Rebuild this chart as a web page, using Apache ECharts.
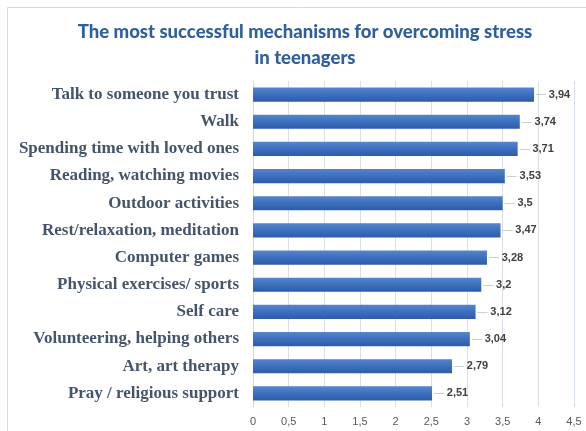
<!DOCTYPE html>
<html><head><meta charset="utf-8">
<script src="https://cdn.jsdelivr.net/npm/echarts@6/dist/echarts.min.js"></script>
<style>html,body{margin:0;padding:0;background:#fff}#c{width:586px;height:431px}</style>
</head><body><div id="c"></div>
<script>
const categories = ["Talk to someone you trust","Walk","Spending time with loved ones","Reading, watching movies","Outdoor activities","Rest/relaxation, meditation","Computer games","Physical exercises/ sports","Self care","Volunteering, helping others","Art, art therapy","Pray / religious support"];
const values = [3.94,3.74,3.71,3.53,3.5,3.47,3.28,3.2,3.12,3.04,2.79,2.51];
const titleText = "The most successful mechanisms for overcoming stress\nin teenagers";

const chart = echarts.init(document.getElementById('c'));
chart.setOption({
  animation:false,
  graphic:[{type:'rect',shape:{x:7.5,y:7.5,width:600,height:440},style:{fill:'none',stroke:'#d9d9d9',lineWidth:1}}],
  title:{text:titleText,left:300,textAlign:'center',top:14,textStyle:{fontFamily:'Lato',fontWeight:900,fontSize:18.5,color:'#2f5f9e',lineHeight:26}},
  grid:{left:253,right:12,top:81,bottom:24,containLabel:false},
  xAxis:{type:'value',min:0,max:4.5,interval:0.5,
    axisLabel:{color:'#595959',fontSize:11,fontFamily:'Liberation Sans',margin:9,formatter:v=>String(v).replace('.',',')},
    splitLine:{lineStyle:{color:'#d9dfe8'}},axisLine:{show:false},axisTick:{show:false}},
  yAxis:{type:'category',inverse:true,data:categories,
    axisLabel:{color:'#44546a',fontSize:17,fontWeight:'bold',fontFamily:'Liberation Serif',margin:14},
    axisLine:{lineStyle:{color:'#d9d9d9'}},axisTick:{show:false}},
  series:[{type:'bar',data:values,barCategoryGap:'48%',
    itemStyle:{color:new echarts.graphic.LinearGradient(0,0,0,1,[{offset:0,color:'#5585cc'},{offset:0.5,color:'#3c6fbe'},{offset:1,color:'#2d5ca8'}])},
    label:{show:true,position:'right',distance:2,
      formatter:p=>'{d|— }{v|'+String(p.value).replace('.',',')+'}',
      rich:{d:{color:'#c0c0c0',fontSize:10},v:{color:'#404040',fontSize:11,fontWeight:'bold',fontFamily:'Liberation Sans'}}}
  }]
});
</script></body></html>
